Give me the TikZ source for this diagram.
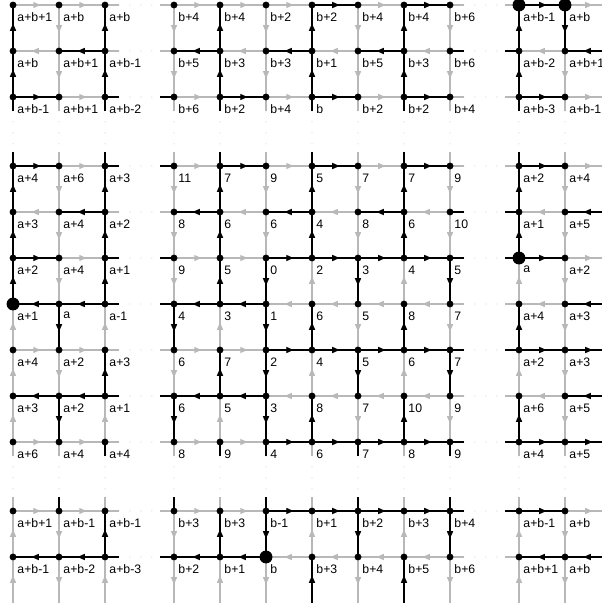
\documentclass[tikz,border=0pt]{standalone}
\usepackage{fontspec}
\setmainfont{Liberation Sans}
\usetikzlibrary{arrows.meta,calc}
\tikzset{edge/.style={line width=1.1pt,black!28},
  hot/.style={edge,black},
  tip/.style={-{Triangle[length=1.6mm,width=1.25mm]}},
  dot/.style={circle,fill=black,inner sep=0,minimum size=1.5mm},
  bigdot/.style={dot,minimum size=2.8mm},
  lab/.style={anchor=north west,inner sep=0,font=\fontsize{7.6}{9}\selectfont},
  gap/.style={black!30,line width=0.6pt,line cap=round,dash pattern=on 0pt off 2.4mm}}
% one lattice edge with its arrow a bit past the middle
\newcommand\lnk[3]{\draw[#1] (#2) -- (#3); \draw[#1,tip] (#2) -- ($(#2)!0.6!(#3)$);}
% horizontal edge c -> c+1 in row r, vertical edge r -> r+1 in column c
\newcommand\hedge[3]{\pgfmathtruncatemacro\nx{#2+1}%
  \pgfmathtruncatemacro\wl{(#3==1)||(#3==4)||(#3==6)||(#3==8)||(#3==11)}%
  \ifnum\wl=1 \lnk{#1}{p-\nx-#3}{p-#2-#3}\else\lnk{#1}{p-#2-#3}{p-\nx-#3}\fi}
\newcommand\vedge[3]{\pgfmathtruncatemacro\nx{#3+1}%
  \ifodd#2\relax \lnk{#1}{p-#2-#3}{p-#2-\nx}\else\lnk{#1}{p-#2-\nx}{p-#2-#3}\fi}
\begin{document}
\begin{tikzpicture}
\useasboundingbox (-0.283,0.109) rectangle (12.804,-13.109);
\clip (-0.283,0.109) rectangle (12.804,-13.109);
% lattice points, index 12 lies off the picture
\foreach \c/\x in {0/0,1/1,2/2,3/3.5,4/4.5,5/5.5,6/6.5,7/7.5,8/8.5,9/9.5,10/11,11/12,12/13}
 \foreach \r/\y in {0/0,1/-1,2/-2,3/-3.5,4/-4.5,5/-5.5,6/-6.5,7/-7.5,8/-8.5,9/-9.5,10/-11,11/-12,12/-13}
  \coordinate (p-\c-\r) at (\x,\y);
% stub ends at the cut rows and columns
\foreach \r/\y in {0/0,1/-1,2/-2,3/-3.5,4/-4.5,5/-5.5,6/-6.5,7/-7.5,8/-8.5,9/-9.5,10/-11,11/-12}{
 \coordinate (ha-\r) at (2.3,\y); \coordinate (hb-\r) at (3.2,\y);
 \coordinate (hc-\r) at (9.8,\y); \coordinate (hd-\r) at (10.7,\y);}
\foreach \c/\x in {0/0,1/1,2/2,3/3.5,4/4.5,5/5.5,6/6.5,7/7.5,8/8.5,9/9.5,10/11,11/12}{
 \coordinate (va-\c) at (\x,-2.3); \coordinate (vb-\c) at (\x,-3.2);
 \coordinate (vc-\c) at (\x,-9.8); \coordinate (vd-\c) at (\x,-10.7);}
% dotted continuation through the cuts
\foreach \r in {0,...,11}{\draw[gap] (ha-\r) -- (hb-\r); \draw[gap] (hc-\r) -- (hd-\r);}
\foreach \c in {0,...,11}{\draw[gap] (va-\c) -- (vb-\c); \draw[gap] (vc-\c) -- (vd-\c);}
% all edges grey first
\foreach \r in {0,...,11}
 \foreach \c in {0,1,3,4,5,6,7,8,10,11} {\hedge{edge}{\c}{\r}}
\foreach \c in {0,...,11}
 \foreach \r in {0,1,3,4,5,6,7,8,10,11} {\vedge{edge}{\c}{\r}}
% black edges
\foreach \c/\r in {6/0,8/0,10/0, 1/1,3/1,5/1,7/1,11/1, 0/2,4/2,6/2,8/2,10/2,
  0/3,4/3,6/3,8/3,10/3, 1/4,3/4,5/4,7/4,11/4, 0/5,5/5,6/5,7/5,8/5,10/5,
  0/6,1/6,3/6,4/6,11/6, 5/7,6/7,7/7,8/7,10/7,11/7, 0/8,1/8,3/8,4/8,11/8,
  5/9,6/9,7/9,8/9,10/9,11/9, 5/10,6/10,7/10,8/10,10/10, 0/11,1/11,3/11,4/11,10/11,11/11}
 {\hedge{hot}{\c}{\r}}
\foreach \c/\r in {0/0,0/1,0/3,0/4,0/5, 1/6,1/8, 2/0,2/1,2/3,2/4,2/5,2/7,2/10,
  3/6,3/8, 4/0,4/1,4/3,4/4,4/5,4/7,4/10, 5/5,5/6,5/7,5/8,5/10, 6/0,6/1,6/3,6/4,6/6,6/8,6/11,
  7/5,7/7,7/10, 8/0,8/1,8/3,8/4,8/6,8/8,8/11, 9/5,9/7,9/10, 10/0,10/1,10/3,10/4,10/6,10/8, 11/0}
 {\vedge{hot}{\c}{\r}}
% stubs into the cuts
\foreach \r/\s/\t in {0/edge/edge,1/edge/hot,2/hot/edge,3/hot/edge,4/edge/hot,5/hot/hot,
  6/hot/edge,7/edge/hot,8/hot/edge,9/edge/hot,10/edge/hot,11/hot/edge}
 {\draw[\s] (p-2-\r) -- (ha-\r); \draw[\s] (p-3-\r) -- (hb-\r);
  \draw[\t] (p-9-\r) -- (hc-\r); \draw[\t] (p-10-\r) -- (hd-\r);}
\foreach \c/\s in {0/hot,1/edge,2/hot,3/edge,4/hot,5/edge,6/hot,7/edge,8/hot,9/edge,10/hot,11/edge}
 {\draw[\s] (p-\c-2) -- (va-\c); \draw[\s] (p-\c-3) -- (vb-\c);}
\foreach \c/\s/\t in {0/edge/edge,1/edge/hot,2/hot/edge,3/edge/hot,4/hot/edge,5/hot/hot,
  6/edge/edge,7/hot/hot,8/edge/edge,9/hot/hot,10/edge/edge,11/edge/edge}
 {\draw[\s] (p-\c-9) -- (vc-\c); \draw[\t] (p-\c-10) -- (vd-\c);}
% points
\foreach \c in {0,...,11}
 \foreach \r in {0,...,11} {\node[dot] (d-\c-\r) at (p-\c-\r) {};}
\node[bigdot] (ma) at (p-10-0) {};
\node[bigdot] (mb) at (p-11-0) {};
\node[bigdot] (mc) at (p-0-6) {};
\node[bigdot] (md) at (p-10-5) {};
\node[bigdot] (me) at (p-5-11) {};
% labels
\foreach \r/\row in {
 0/{a+b+1,a+b,a+b,b+4,b+4,b+2,b+2,b+4,b+4,b+6,a+b-1,a+b},
 1/{a+b,a+b+1,a+b-1,b+5,b+3,b+3,b+1,b+5,b+3,b+6,a+b-2,a+b+1},
 2/{a+b-1,a+b+1,a+b-2,b+6,b+2,b+4,b,b+2,b+2,b+4,a+b-3,a+b-1},
 3/{a+4,a+6,a+3,11,7,9,5,7,7,9,a+2,a+4},
 4/{a+3,a+4,a+2,8,6,6,4,8,6,10,a+1,a+5},
 5/{a+2,a+4,a+1,9,5,0,2,3,4,5,a,a+2},
 6/{a+1,a,a-1,4,3,1,6,5,8,7,a+4,a+3},
 7/{a+4,a+2,a+3,6,7,2,4,5,6,7,a+2,a+3},
 8/{a+3,a+2,a+1,6,5,3,8,7,10,9,a+6,a+5},
 9/{a+6,a+4,a+4,8,9,4,6,7,8,9,a+4,a+5},
 10/{a+b+1,a+b-1,a+b-1,b+3,b+3,b-1,b+1,b+2,b+3,b+4,a+b-1,a+b},
 11/{a+b-1,a+b-2,a+b-3,b+2,b+1,b,b+3,b+4,b+5,b+6,a+b+1,a+b}}
 {\foreach \t [count=\c from 0] in \row
   {\node[lab] (l-\c-\r) at ($(p-\c-\r)+(0.09,-0.16)$) {\t};}}
\end{tikzpicture}
\end{document}
